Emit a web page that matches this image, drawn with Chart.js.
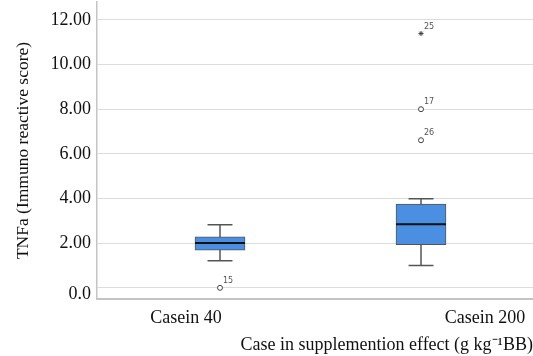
<!DOCTYPE html>
<html>
<head>
<meta charset="utf-8">
<script src="https://cdn.jsdelivr.net/npm/chart.js@4.4.1/dist/chart.umd.min.js"></script>
<style>
  html, body { margin: 0; padding: 0; background: #fff; }
  #wrap { width: 533px; height: 356px; }
</style>
</head>
<body>
<div id="wrap"><canvas id="c" width="533" height="356"></canvas></div>
<script>
  // Box plot data
  const categories   = ['Casein 40', 'Casein 200'];
  const whiskerLow   = [1.21, 1.00];
  const quartile1    = [1.69, 1.93];
  const medians      = [2.01, 2.85];
  const quartile3    = [2.28, 3.75];
  const whiskerHigh  = [2.82, 3.99];

  // outliers: which box, value, case id, marker
  const outlierGroup = [0, 1, 1, 1];
  const outlierValue = [0.00, 6.61, 8.00, 11.39];
  const outlierId    = ['15', '26', '17', '25'];
  const outlierMark  = ['circle', 'circle', 'circle', 'star'];

  const yTickValues  = [0, 2, 4, 6, 8, 10, 12];

  // layout (x units: box i sits at i + 1)
  const BOX_HALF = 0.124;
  const CAP_HALF = 0.062;
  const LABEL_POS = [0.831, 2.318];
  const ZERO_LABEL_AT = -0.31;

  const SERIF = '"Liberation Serif", "Times New Roman", serif';
  const AXIS = '#c4c4c4';
  const GRID = '#dcdcdc';
  const BOX_FILL = '#4b8fe2';
  const EDGE = '#555555';

  const centers = categories.map(function (_, i) { return i + 1; });

  function seg(x1, y1, x2, y2) { return [{ x: x1, y: y1 }, { x: x2, y: y2 }, { x: x2, y: null }]; }

  const whiskerPts = [];
  centers.forEach(function (c, i) {
    whiskerPts.push.apply(whiskerPts, seg(c, whiskerLow[i], c, quartile1[i]));
    whiskerPts.push.apply(whiskerPts, seg(c, quartile3[i], c, whiskerHigh[i]));
    whiskerPts.push.apply(whiskerPts, seg(c - CAP_HALF, whiskerLow[i], c + CAP_HALF, whiskerLow[i]));
    whiskerPts.push.apply(whiskerPts, seg(c - CAP_HALF, whiskerHigh[i], c + CAP_HALF, whiskerHigh[i]));
  });

  const medianPts = [];
  centers.forEach(function (c, i) {
    medianPts.push.apply(medianPts, seg(c - BOX_HALF, medians[i], c + BOX_HALF, medians[i]));
  });

  const outlierPts = outlierValue.map(function (v, i) {
    return { x: centers[outlierGroup[i]], y: v };
  });

  // small case-number labels next to outliers
  const caseLabels = {
    id: 'caseLabels',
    afterDatasetsDraw: function (chart) {
      const ctx = chart.ctx, xs = chart.scales.x, ys = chart.scales.y;
      ctx.save();
      ctx.font = '8px "DejaVu Sans", sans-serif';
      ctx.fillStyle = '#555';
      ctx.textAlign = 'left';
      ctx.textBaseline = 'middle';
      outlierPts.forEach(function (p, i) {
        ctx.fillText(outlierId[i], xs.getPixelForValue(p.x) + 3, ys.getPixelForValue(p.y) - 7);
      });
      ctx.restore();
    }
  };

  new Chart(document.getElementById('c'), {
    type: 'bar',
    data: {
      datasets: [
        {
          type: 'line',
          data: medianPts,
          borderColor: '#111',
          borderWidth: 2,
          pointRadius: 0,
          spanGaps: false,
          order: 0
        },
        {
          type: 'scatter',
          data: outlierPts,
          pointStyle: outlierMark,
          pointRadius: 2.5,
          pointBackgroundColor: '#fff',
          pointBorderColor: '#444',
          pointBorderWidth: 1,
          order: 1
        },
        {
          type: 'bar',
          data: centers.map(function (c, i) { return { x: c, y: [quartile1[i], quartile3[i]] }; }),
          backgroundColor: BOX_FILL,
          borderColor: EDGE,
          borderWidth: 1,
          borderSkipped: false,
          barThickness: 50,
          order: 2
        },
        {
          type: 'line',
          data: whiskerPts,
          borderColor: EDGE,
          borderWidth: 1.5,
          pointRadius: 0,
          spanGaps: false,
          order: 3
        }
      ]
    },
    options: {
      responsive: false,
      animation: false,
      devicePixelRatio: 1,
      layout: { autoPadding: false, padding: { top: 2, left: 0, right: 0, bottom: 0 } },
      plugins: { legend: { display: false }, tooltip: { enabled: false } },
      scales: {
        x: {
          type: 'linear',
          offset: false,
          min: 1 - 123 / 201,
          max: 2 + 112 / 201,
          afterFit: function (s) { s.height = 57; s.paddingLeft = 0; s.paddingRight = 0; },
          afterBuildTicks: function (s) { s.ticks = LABEL_POS.map(function (v) { return { value: v }; }); },
          grid: { display: false },
          border: { color: AXIS, width: 2 },
          ticks: {
            padding: 0,
            maxRotation: 0,
            color: '#111',
            font: { family: SERIF, size: 18 },
            callback: function (v, i) { return categories[i]; }
          },
          title: {
            display: true,
            text: 'Case in supplemention effect (g kg⁻¹BB)',
            align: 'end',
            color: '#111',
            padding: { top: 0, bottom: 0 },
            font: { family: SERIF, size: 18 }
          }
        },
        y: {
          min: -0.5,
          max: 12.8,
          afterFit: function (s) { s.width = 97; s.paddingTop = 0; s.paddingBottom = 0; },
          afterBuildTicks: function (s) {
            s.ticks = [{ value: ZERO_LABEL_AT }].concat(yTickValues.map(function (v) { return { value: v }; }));
          },
          grid: {
            drawTicks: false,
            color: function (ctx) { return ctx.tick && ctx.tick.value < 0 ? 'rgba(0,0,0,0)' : GRID; },
            lineWidth: 1
          },
          border: { color: AXIS, width: 1.5 },
          ticks: {
            padding: 6,
            color: '#111',
            font: { family: SERIF, size: 18 },
            callback: function (v) {
              if (v < 0) return '0.0';
              if (v === 0) return '';
              return v.toFixed(2);
            }
          },
          title: {
            display: true,
            text: 'TNFa (Immuno reactive score)',
            color: '#111',
            padding: { top: 13, bottom: 0 },
            font: { family: SERIF, size: 17.5 }
          }
        }
      }
    },
    plugins: [caseLabels]
  });
</script>
</body>
</html>
